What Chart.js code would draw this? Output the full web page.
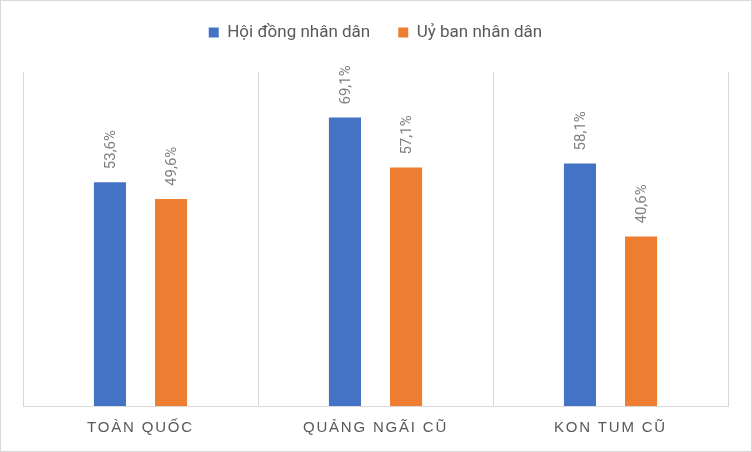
<!DOCTYPE html>
<html><head><meta charset="utf-8">
<script src="https://cdn.jsdelivr.net/npm/chart.js@4/dist/chart.umd.min.js"></script>
<style>
html,body{margin:0;padding:0;background:#fff;}
#wrap{width:752px;height:452px;box-sizing:border-box;border:1px solid #d9d9d9;}
canvas{display:block;}
</style></head><body>
<div id="wrap"><canvas id="c" width="750" height="450"></canvas></div>
<script>
const categories = ['TOÀN QUỐC', 'QUẢNG NGÃI CŨ', 'KON TUM CŨ'];
const seriesNames = ['Hội đồng nhân dân', 'Uỷ ban nhân dân'];
const hoiDong = [53.6, 69.1, 58.1];
const uyBan = [49.6, 57.1, 40.6];

const legendGap = {
  id: 'legendGap',
  beforeLayout(chart) {
    const lg = chart.legend;
    if (lg && !lg._gapPatched) {
      const orig = lg.fit;
      lg.fit = function () { orig.call(this); this.height += 21; };
      lg._gapPatched = true;
    }
  }
};

const labelPlugin = {
  id: 'valLabels',
  afterDatasetsDraw(chart) {
    const ctx = chart.ctx;
    ctx.save();
    ctx.font = '15px Roboto, "Liberation Sans", sans-serif';
    ctx.fillStyle = '#7f7f7f';
    ctx.textAlign = 'left';
    ctx.textBaseline = 'middle';
    chart.data.datasets.forEach((ds, di) => {
      chart.getDatasetMeta(di).data.forEach((el, i) => {
        ctx.save();
        ctx.translate(el.x + 1, el.y - 13);
        ctx.rotate(-Math.PI / 2);
        ctx.fillText(ds.data[i].toFixed(1).replace('.', ',') + '%', 0, 0);
        ctx.restore();
      });
    });
    ctx.restore();
    ctx.letterSpacing = '1.8px';
  },
  afterDraw(chart) { chart.ctx.letterSpacing = '0px'; }
};

new Chart(document.getElementById('c'), {
  type: 'bar',
  data: {
    labels: categories,
    datasets: [
      { label: seriesNames[0], data: hoiDong, backgroundColor: '#4472C4' },
      { label: seriesNames[1], data: uyBan, backgroundColor: '#ED7D31' }
    ]
  },
  options: {
    responsive: false,
    animation: false,
    devicePixelRatio: 1,
    categoryPercentage: 0.52,
    barPercentage: 0.525,
    layout: { padding: { left: 22, right: 23, top: -5, bottom: 1 } },
    plugins: {
      legend: {
        position: 'top',
        labels: {
          boxWidth: 10, boxHeight: 10, padding: 28,
          color: '#595959',
          font: { size: 17, family: 'Roboto, "Liberation Sans", sans-serif' }
        }
      },
      tooltip: { enabled: false }
    },
    scales: {
      x: {
        grid: { color: '#d9d9d9', lineWidth: 1, drawTicks: false, offset: true },
        border: { color: '#d9d9d9', width: 1 },
        ticks: {
          z: 1, padding: 13, color: '#595959',
          font: { size: 15, family: '"Liberation Sans", sans-serif' }
        }
      },
      y: { display: false, min: 0, max: 80 }
    }
  },
  plugins: [legendGap, labelPlugin]
});
</script></body></html>
